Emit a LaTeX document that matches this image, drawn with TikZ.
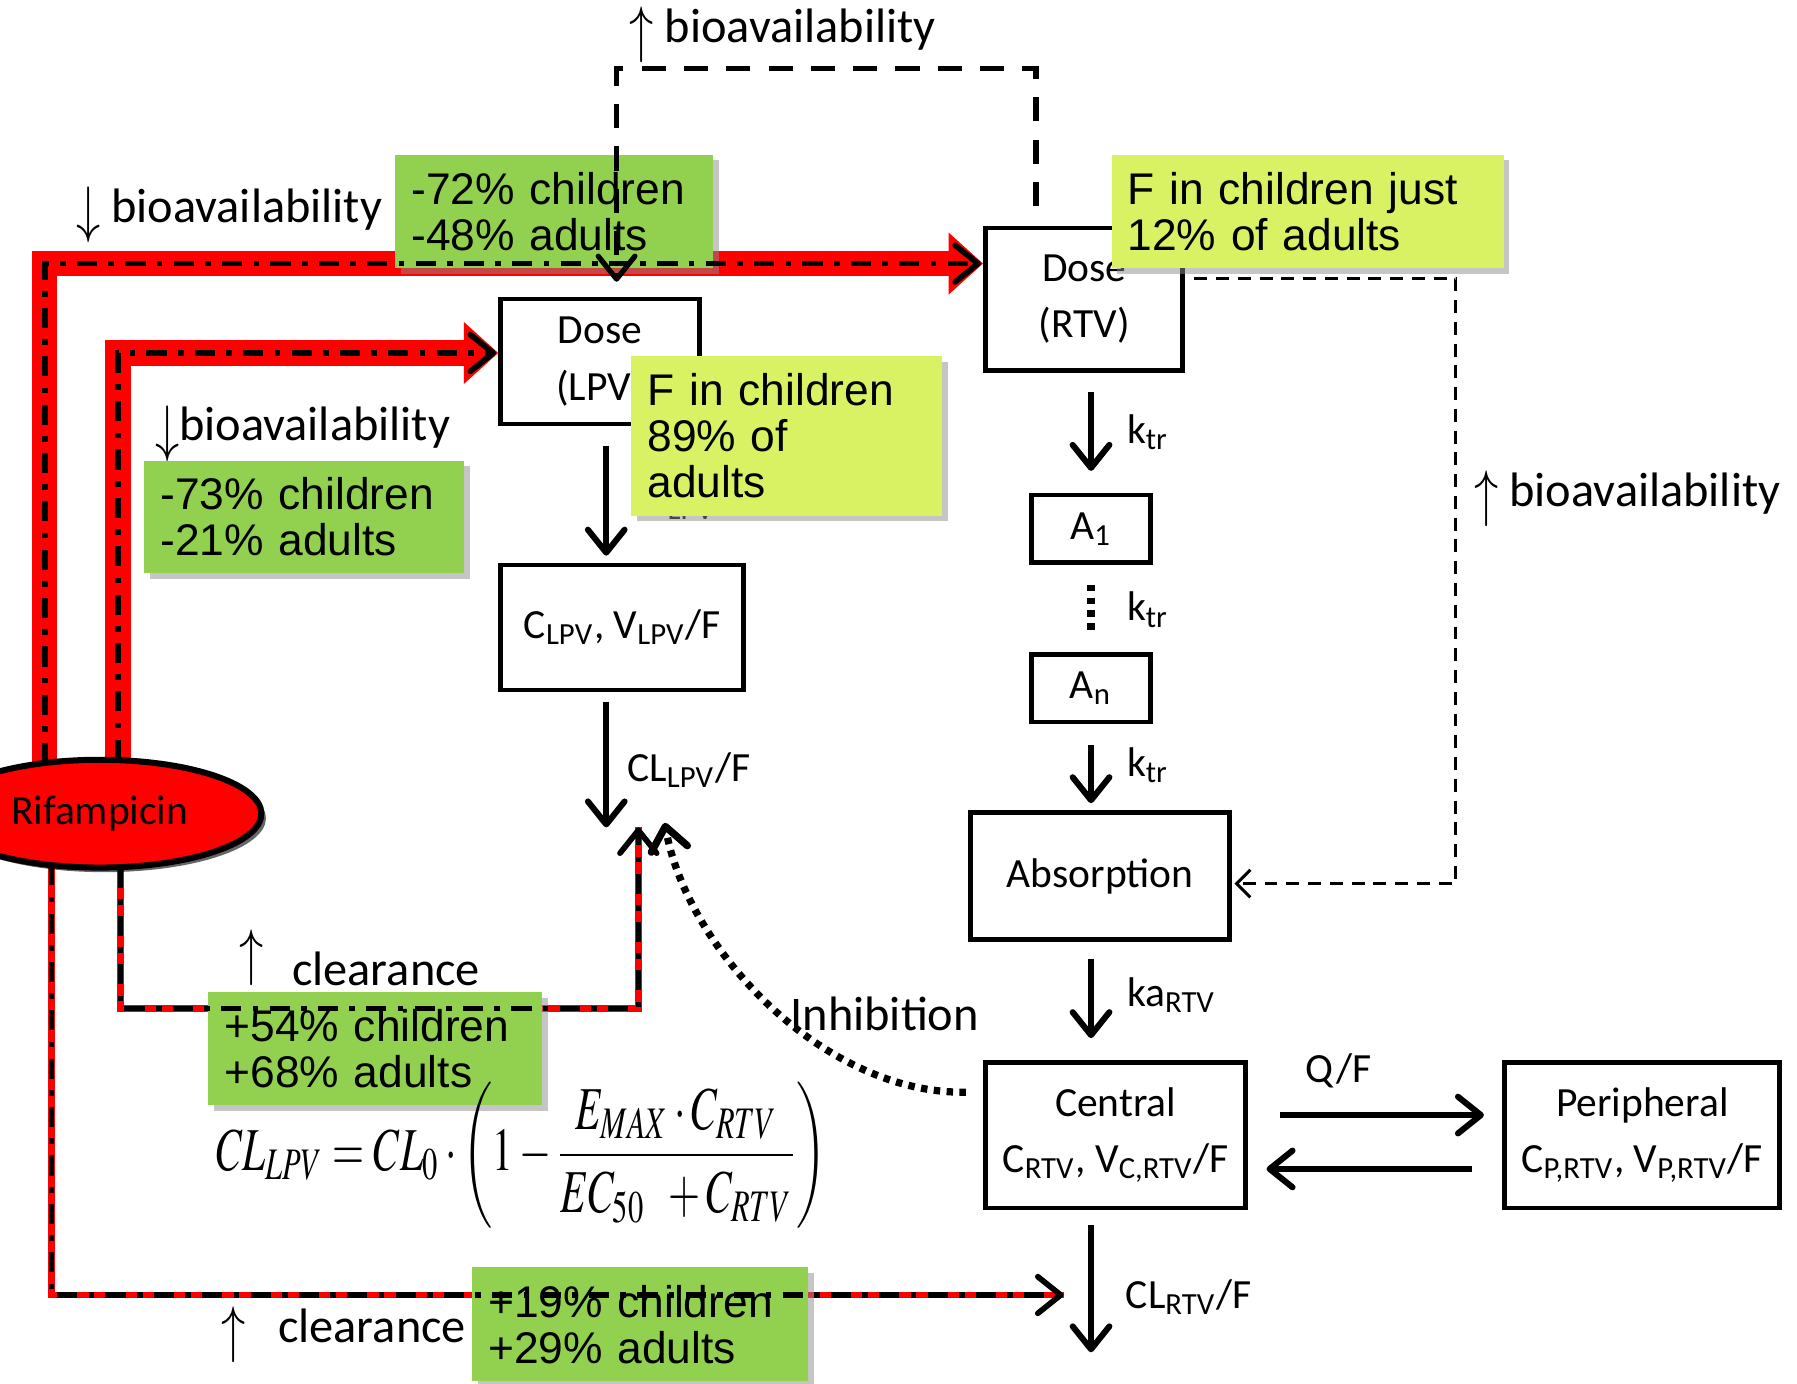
\documentclass[tikz,border=0pt]{standalone}
\usepackage{mathptmx}
\usepackage[no-math]{fontspec}
\setmainfont{Carlito}
\newfontfamily\notefont{Liberation Sans}
\usetikzlibrary{arrows.meta, positioning, calc, shapes, shadows}
\definecolor{NoteGreen}{RGB}{146, 208, 80}
\definecolor{NoteLime}{RGB}{216, 242, 100}
\definecolor{RifRed}{RGB}{255, 0, 0}
\pgfdeclarelayer{back}
\pgfsetlayers{back,main}
\newcommand{\arrowup}{\raisebox{-2pt}{\scalebox{1}[1.3]{$\uparrow$}}}
\newcommand{\arrowdown}{\raisebox{-2pt}{\scalebox{1}[1.3]{$\downarrow$}}}

\begin{document}
\begin{tikzpicture}[
        x=0.01cm, y=-0.01cm,
        >={Straight Barb[length=0.2cm, width=0.32cm, round]},
        comp_box/.style={draw, line width=1.2pt, fill=white, align=center, inner sep=0pt, font=\fontsize{10.3}{14}\selectfont},
        note_dark/.style={fill=NoteGreen, align=left, inner xsep=0.14cm, inner ysep=0pt, minimum height=0.99cm, font=\notefont\fontsize{11}{11.4}\selectfont, drop shadow={shadow xshift=0.05cm, shadow yshift=-0.05cm, fill=black!45, opacity=0.5}},
        note_lime/.style={note_dark, fill=NoteLime},
        flow_arrow/.style={->, line width=1.5pt},
        edge_label/.style={font=\fontsize{10.3}{12}\selectfont},
        big_label/.style={font=\fontsize{12}{14}\selectfont},
        red_band/.style={draw=RifRed, line width=0.22cm, -{Triangle[length=0.3cm, width=0.52cm]}},
        red_thin/.style={draw=RifRed, line width=0.06cm},
        dash_dot/.style={->, line width=1.4pt, dash pattern=on 5pt off 2.8pt on 1.4pt off 2.8pt},
        dash_long/.style={->, line width=1.3pt, dash pattern=on 6pt off 4.5pt},
        dash_thin/.style={-{Straight Barb[length=0.12cm, width=0.24cm]}, line width=0.75pt, dash pattern=on 3.2pt off 2.2pt},
        dots_line/.style={line width=1.8pt, dash pattern=on 1.6pt off 1.6pt}
    ]
        \useasboundingbox (0,0) rectangle (1568,1207);

        % Compartments
        \node[comp_box, minimum width=1.73cm, minimum height=1.09cm] (dose_lpv) at (523.5,315.5) {Dose\\(LPV)};
        \node[comp_box, minimum width=2.12cm, minimum height=1.09cm] (c_lpv) at (543,547.5) {C\textsubscript{LPV}, V\textsubscript{LPV}/F};
        \node[comp_box, minimum width=1.72cm, minimum height=1.24cm] (dose_rtv) at (946,261) {Dose\\(RTV)};
        \node[comp_box, minimum width=1.04cm, minimum height=0.59cm] (a1) at (952,461.5) {A\textsubscript{1}};
        \node[comp_box, minimum width=1.04cm, minimum height=0.59cm] (an) at (952,600.5) {A\textsubscript{n}};
        \node[comp_box, minimum width=2.26cm, minimum height=1.11cm] (absorption) at (960,764.5) {Absorption};
        \node[comp_box, minimum width=2.27cm, minimum height=1.27cm] (central) at (973.5,990.5) {Central\\C\textsubscript{RTV}, V\textsubscript{C,RTV}/F};
        \node[comp_box, minimum width=2.40cm, minimum height=1.27cm] (peripheral) at (1433,990.5) {Peripheral\\C\textsubscript{P,RTV}, V\textsubscript{P,RTV}/F};
        \node[ellipse, draw, line width=1.5pt, fill=RifRed, inner sep=0pt, minimum width=2.82cm, minimum height=0.94cm, font=\fontsize{10.3}{12}\selectfont, drop shadow={shadow xshift=0.04cm, shadow yshift=-0.04cm, fill=black, opacity=0.6}] (rif) at (87,710) {Rifampicin};

        \coordinate (lpv_out) at (529,722);
        \coordinate (rtv_out) at (952,1180);
        \coordinate (cl_lpv_up) at (557,722);
        \coordinate (rtv_cl_hit) at (928,1130);
        \coordinate (inh_tip) at (580,718);

        % Rifampicin effects (red, behind)
        \begin{pgfonlayer}{back}
        \draw[red_band] ($(rif.center)+(-48,0)$) |- ($(dose_rtv.west)+(0,-31)$);
        \draw[red_band] ($(rif.center)+(16,0)$) |- ($(dose_lpv.west)+(0,-7.5)$);
        \draw[red_thin] ($(rif.center)+(18,0)$) |- ($(cl_lpv_up)+(0,158)$) -- (cl_lpv_up);
        \draw[red_thin] ($(rif.center)+(-42,0)$) |- (rtv_cl_hit);
        \end{pgfonlayer}

        % Edges
        \draw[flow_arrow] ($(dose_lpv.south)+(5.5,17)$) -- ($(dose_lpv.south |- c_lpv.north)+(5.5,-6)$);
        \draw[flow_arrow] ($(c_lpv.south)+(-14,8)$) -- (lpv_out);
        \draw[flow_arrow] ($(dose_rtv.south)+(6,17)$) -- ($(a1.north)+(0,-19)$);
        \draw[dots_line] ($(a1.south)+(0,17)$) -- ($(an.north)+(0,-18)$);
        \draw[flow_arrow] ($(an.south)+(0,18)$) -- ($(absorption.north)+(-8,-6)$);
        \draw[flow_arrow] ($(absorption.south)+(-8,15)$) -- ($(central.north)+(-21.5,-19)$);
        \draw[flow_arrow] ($(central.east)+(28,-17.5)$) -- ($(peripheral.west)+(-16,-17.5)$);
        \draw[flow_arrow] ($(peripheral.west)+(-26,29.5)$) -- ($(central.east)+(16,29.5)$);
        \draw[flow_arrow] ($(central.south)+(-21.5,13)$) -- (rtv_out);

        \node[edge_label, anchor=west] (ka_lpv) at (537,438) {ka\textsubscript{LPV}};

        % Notes
        \node[note_lime, text width=2.43cm, minimum height=1.39cm] (n89) at (686.5,380.5) {F in children\\89\% of\\adults};
        \node[note_lime, text width=3.14cm] (n12) at (1141,184.5) {F in children just\\12\% of adults};
        \node[note_dark, text width=2.49cm] (n72) at (483.5,184.5) {-72\% children\\-48\% adults};
        \node[note_dark, text width=2.51cm, minimum height=0.98cm] (n73) at (265.5,451) {-73\% children\\-21\% adults};
        \node[note_dark, text width=2.63cm, minimum height=0.98cm] (n54) at (327.5,915) {+54\% children\\+68\% adults};
        \node[note_dark, text width=2.65cm] (n19) at (558.5,1155.5) {+19\% children\\+29\% adults};

        \draw[dash_dot] ($(rif.center)+(-48,-44)$) |- ($(dose_rtv.west)+(-2,-31)$);
        \draw[dash_dot] ($(rif.center)+(16,-47)$) |- ($(dose_lpv.west)+(-2,-7.5)$);
        \draw[dash_dot] ($(rif.center)+(18,47)$) |- ($(cl_lpv_up)+(0,158)$) -- (cl_lpv_up);
        \draw[dash_dot] ($(rif.center)+(-42,45)$) |- (rtv_cl_hit);

        \draw[dash_long] ($(dose_rtv.north)+(-42,-17)$) -- ++(0,-120) -| ($(dose_lpv.north)+(14.5,-13)$);
        \draw[dash_thin] ($(dose_rtv.east)+(8,-18)$) -| ($(absorption.east)+(195,6.5)$) -- ($(absorption.east)+(2,6.5)$);
        \draw[dots_line, ->] ($(central.west)+(-15,-37.5)$) .. controls (720,955) and (600,830) .. (inh_tip);

        % Labels
        \node[edge_label, anchor=west] (cl_lpv_lab) at (535,672) {CL\textsubscript{LPV}/F};
        \node[edge_label, anchor=west] (ktr_1) at (971,377) {k\textsubscript{tr}};
        \node[edge_label, anchor=west] (ktr_2) at (971,532) {k\textsubscript{tr}};
        \node[edge_label, anchor=west] (ktr_3) at (971,668) {k\textsubscript{tr}};
        \node[edge_label, anchor=west] (ka_rtv) at (971,868) {ka\textsubscript{RTV}};
        \node[edge_label, anchor=west] (cl_rtv_lab) at (970,1132) {CL\textsubscript{RTV}/F};
        \node[edge_label] (q_lab) at (1168,934) {Q/F};
        \node[big_label, inner sep=0pt] (bio_top) at (683,30) {\arrowup\ bioavailability};
        \node[big_label] (bio_left) at (200,187) {\arrowdown\ bioavailability};
        \node[big_label] (bio_mid) at (264,378) {\arrowdown bioavailability};
        \node[big_label] (bio_right) at (1420,435) {\arrowup\ bioavailability};
        \node[big_label] (clear_up) at (314,836) {\raisebox{5pt}{\arrowup}\hspace{7pt}clearance};
        \node[big_label] (clear_low) at (300,1165) {\arrowup\hspace{8pt}clearance};
        \node[big_label] (inhib) at (772,885) {Inhibition};

        \node[font=\fontsize{14}{18}\selectfont, inner sep=0pt] (cl_eq) at (455,1008) {\scalebox{0.73}[1.08]{$\displaystyle CL_{LPV} = CL_0 \cdot \left(1 - \frac{E_{MAX}\cdot C_{RTV}}{EC_{50}\;\; + C_{RTV}}\right)$}};
    \end{tikzpicture}
\end{document}
